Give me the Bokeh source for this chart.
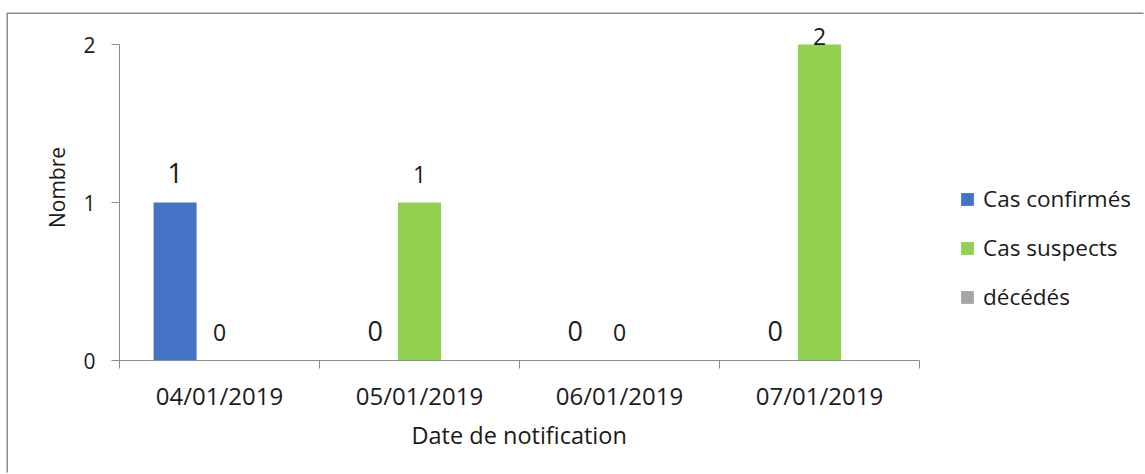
from bokeh.plotting import figure
from bokeh.models import (ColumnDataSource, FixedTicker, LabelSet, Legend, LegendItem, Range1d, Title)
from bokeh.core.properties import value
from bokeh.embed import file_html
from bokeh.resources import INLINE

# ---- data ----
categories = ["04/01/2019", "05/01/2019", "06/01/2019", "07/01/2019"]
cas_confirmes = [1, 0, 0, 0]
cas_suspects = [0, 1, 0, 2]
decedes = [None, None, None, None]
series_names = ["Cas confirmés", "Cas suspects", "décédés"]
series_colors = ["#4472C4", "#92D050", "#A5A5A5"]
y_ticks = [0, 1, 2]
x_title = "Date de notification"
y_title = "Nombre"

FONT = "Open Sans"
AXIS_COLOR = "#8c8c8c"
TEXT_COLOR = "#1a1a1a"

# layout (pixels)
W, H = 1137, 460
ML, MB = 111, 114          # left / bottom borders of the figure
PX_PER_CAT = 200.0
PX_PER_UNIT = 158.0
frame_w = W - ML
frame_h = H - MB
n = len(categories)
ymax = max(y_ticks)

p = figure(width=W, height=H, output_backend="svg", toolbar_location=None,
           x_range=Range1d(0, frame_w / PX_PER_CAT), y_range=Range1d(0, frame_h / PX_PER_UNIT),
           min_border_left=ML, min_border_right=0, min_border_top=0, min_border_bottom=MB)
p.margin = (14, 0, 0, 8)
p.styles = {"box-shadow": "-1.5px -1.5px 0 0 #8c8c8c"}
p.outline_line_color = None
p.xgrid.visible = False
p.ygrid.visible = False
p.background_fill_color = "white"
p.border_fill_color = "white"

group_off = [-0.222, 0.0, 0.222]
bar_w = 0.215
all_vals = [cas_confirmes, cas_suspects, decedes]
renderers = []
for k, (name, color, vals) in enumerate(zip(series_names, series_colors, all_vals)):
    xs = [i + 0.5 + group_off[k] for i in range(n)]
    tops = [float("nan") if v is None else v for v in vals]
    src = ColumnDataSource(dict(x=xs, top=tops))
    r = p.vbar(x="x", top="top", width=bar_w, source=src, fill_color=color, line_color=None)
    renderers.append(r)

# data labels (Excel style), kept inside the chart area
label_sizes = ["27px", "23px"]
label_offsets = [30, 28]
for k in range(2):
    vals = all_vals[k]
    xs = [i + 0.5 + group_off[k] for i in range(n)]
    offs = [min(label_offsets[k], (ymax - v) * PX_PER_UNIT + 8) for v in vals]
    src = ColumnDataSource(dict(x=xs, y=vals, t=[str(v) for v in vals], off=offs))
    ls = LabelSet(x="x", y="y", text="t", y_offset="off", source=src,
                  text_align="center", text_baseline="middle",
                  text_font=value(FONT), text_font_size=label_sizes[k], text_color=TEXT_COLOR)
    p.add_layout(ls)

# x axis
xa = p.xaxis[0]
xa.bounds = (0, n)
xa.ticker = FixedTicker(ticks=[i + 0.5 for i in range(n)], minor_ticks=list(range(n + 1)))
xa.major_label_overrides = {i + 0.5: c for i, c in enumerate(categories)}
xa.major_tick_line_color = None
xa.major_tick_out = 0
xa.major_tick_in = 0
xa.minor_tick_line_color = AXIS_COLOR
xa.minor_tick_out = 8
xa.minor_tick_in = 0
xa.axis_line_color = AXIS_COLOR
xa.major_label_text_font = FONT
xa.major_label_text_font_size = "24px"
xa.major_label_text_color = TEXT_COLOR
xa.major_label_standoff = 10

# x axis title, centred under the category axis (not the whole frame)
title_w = 216
xt = Title(text=x_title, align="left", offset=n * PX_PER_CAT / 2 - title_w / 2,
           text_font=FONT, text_font_size="23.5px", text_font_style="normal",
           text_color=TEXT_COLOR, standoff=4)
p.add_layout(xt, "below")

# y axis
ya = p.yaxis[0]
ya.bounds = (0, ymax)
ya.ticker = FixedTicker(ticks=y_ticks, minor_ticks=[])
ya.major_tick_line_color = AXIS_COLOR
ya.major_tick_out = 8
ya.major_tick_in = 0
ya.minor_tick_line_color = None
ya.axis_line_color = AXIS_COLOR
ya.major_label_text_font = FONT
ya.major_label_text_font_size = "21px"
ya.major_label_text_color = TEXT_COLOR
ya.major_label_standoff = 16
ya.axis_label = y_title
ya.axis_label_text_font = FONT
ya.axis_label_text_font_size = "21px"
ya.axis_label_text_font_style = "normal"
ya.axis_label_text_color = TEXT_COLOR
ya.axis_label_standoff = 9

legend = Legend(items=[LegendItem(label=nm, renderers=[r]) for nm, r in zip(series_names, renderers)],
                location=(840, 48), orientation="vertical",
                glyph_width=16, glyph_height=16, label_standoff=8, spacing=18,
                padding=0, margin=0, border_line_color=None, background_fill_alpha=0,
                label_text_font=FONT, label_text_font_size="22.5px", label_text_color=TEXT_COLOR)
p.add_layout(legend)

open("out.html", "w").write(file_html(p, INLINE))
